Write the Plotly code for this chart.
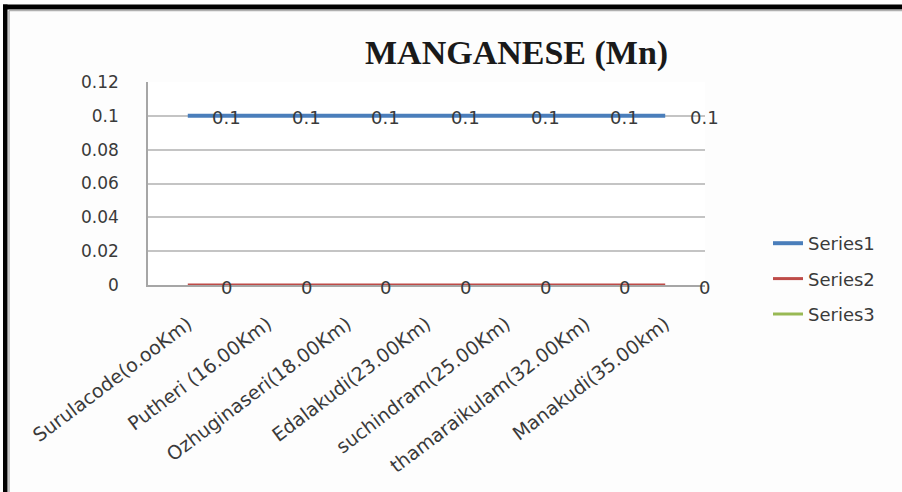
import plotly.graph_objects as go

# Sampling stations along the river with distance from source
stations = [
    "Surulacode(o.ooKm)",
    "Putheri (16.00Km)",
    "Ozhuginaseri(18.00Km)",
    "Edalakudi(23.00Km)",
    "suchindram(25.00Km)",
    "thamaraikulam(32.00Km)",
    "Manakudi(35.00km)",
]

# Manganese concentration per series
series1 = [0.1, 0.1, 0.1, 0.1, 0.1, 0.1, 0.1]
series2 = [0, 0, 0, 0, 0, 0, 0]
series3 = [None, None, None, None, None, None, None]

series_names = ["Series1", "Series2", "Series3"]
series_colors = ["#4a7ebb", "#be4b48", "#98b954"]
series_widths = [4, 3, 3]

y_ticks = [0, 0.02, 0.04, 0.06, 0.08, 0.1, 0.12]

W, H = 902, 492
TEXT = "#3a3a3a"


def px_x(p):
    return p / W


def px_y(p):
    # pixel row from top -> paper fraction from bottom
    return 1 - p / H


fig = go.Figure()

for name, vals, color, width in zip(series_names, [series1, series2, series3],
                                    series_colors, series_widths):
    fig.add_trace(go.Scatter(
        x=stations, y=vals, name=name, mode="lines",
        line=dict(color=color, width=width),
        legendgroup=name,
    ))

# Value labels placed to the right of each point
annotations = []
for vals in [series1, series2]:
    for st, v in zip(stations, vals):
        if v is None:
            continue
        annotations.append(dict(
            x=st, y=v, xref="x", yref="y", text=f"{v:g}",
            showarrow=False, xanchor="center", yanchor="middle",
            xshift=39, yshift=-2,
            font=dict(family="DejaVu Sans", size=18, color=TEXT),
        ))

annotations.append(dict(
    x=px_x(516), y=px_y(53), xref="paper", yref="paper",
    text="<b>MANGANESE (Mn)</b>", showarrow=False,
    xanchor="center", yanchor="middle",
    font=dict(family="Liberation Serif", size=34, color="#1a1a1a"),
))

# Outer frame: heavy black rule on top and left, thin grey chart border inside
shapes = [
    dict(type="rect", xref="paper", yref="paper",
         x0=px_x(3), x1=1.0, y0=px_y(9.5), y1=px_y(4.5),
         fillcolor="black", line=dict(width=0), layer="above"),
    dict(type="rect", xref="paper", yref="paper",
         x0=px_x(3), x1=px_x(7.5), y0=0, y1=px_y(4.5),
         fillcolor="black", line=dict(width=0), layer="above"),
    dict(type="line", xref="paper", yref="paper",
         x0=px_x(9), x1=1.0, y0=px_y(10.5), y1=px_y(10.5),
         line=dict(color="#b0b0b0", width=1.5)),
    dict(type="line", xref="paper", yref="paper",
         x0=px_x(9), x1=px_x(9), y0=0, y1=px_y(10.5),
         line=dict(color="#b0b0b0", width=1.5)),
]

fig.update_layout(
    width=W, height=H,
    margin=dict(l=0, r=0, t=0, b=0, pad=0, autoexpand=False),
    paper_bgcolor="#fdfdfd",
    plot_bgcolor="#ffffff",
    font=dict(family="DejaVu Sans", size=17, color=TEXT),
    showlegend=True,
    legend=dict(
        x=px_x(768), y=px_y(225), xanchor="left", yanchor="top",
        font=dict(family="DejaVu Sans", size=18, color=TEXT),
        tracegroupgap=9, bgcolor="rgba(0,0,0,0)",
    ),
    xaxis=dict(
        domain=[px_x(148), px_x(705)],
        type="category", range=[-0.5, 6.5], automargin=False,
        showline=True, linecolor="#a6a6a6", linewidth=1.5,
        showgrid=False, ticks="", tickangle=-37, ticklabelstandoff=19,
        tickfont=dict(family="DejaVu Sans", size=19, color=TEXT),
    ),
    yaxis=dict(
        domain=[px_y(285), px_y(82)], automargin=False,
        range=[0, 0.12], tickvals=y_ticks,
        ticktext=[f"{t:g}" for t in y_ticks],
        showline=True, linecolor="#a6a6a6", linewidth=1.5,
        showgrid=True, gridcolor="#c4c4c4", gridwidth=1.5,
        zeroline=False, ticks="", ticklabelstandoff=24,
        tickfont=dict(family="DejaVu Sans", size=17, color=TEXT),
    ),
    annotations=annotations,
    shapes=shapes,
)

fig.write_html("out.html")
